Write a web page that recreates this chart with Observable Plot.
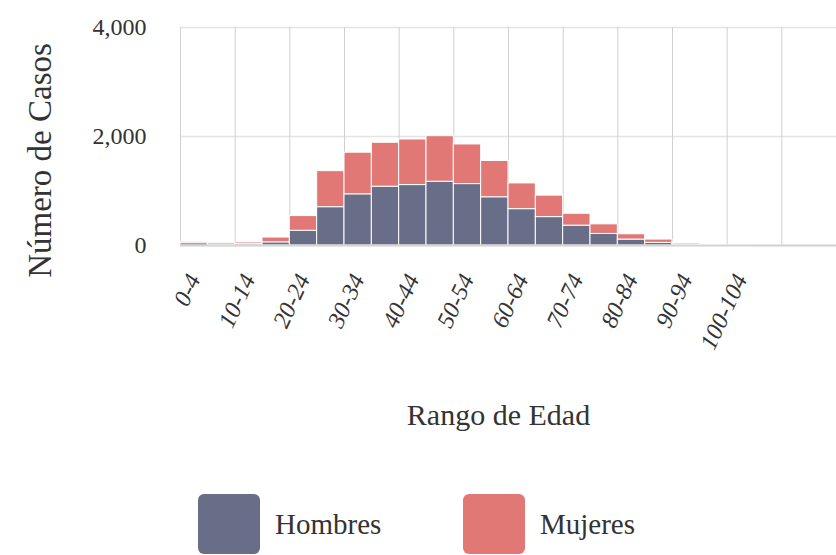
<!DOCTYPE html>
<html>
<head>
<meta charset="utf-8">
<script src="https://cdn.jsdelivr.net/npm/d3@7"></script>
<script src="https://cdn.jsdelivr.net/npm/@observablehq/plot@0.6"></script>
<style>
  html, body { margin: 0; padding: 0; background: white; }
  #chart { width: 836px; }
  .legend { position: relative; width: 836px; height: 75px; font-family: "Liberation Serif", serif; font-size: 29px; color: #333; }
  .sw { position: absolute; top: 14px; width: 62px; height: 60px; border-radius: 6px; }
  .lb { position: absolute; top: 14px; height: 60px; line-height: 60px; }
</style>
</head>
<body>
<div id="chart"></div>
<script>
const ageStarts = [0,5,10,15,20,25,30,35,40,45,50,55,60,65,70,75,80,85,90,95,100,105];
const ageLabels = ["0-4","5-9","10-14","15-19","20-24","25-29","30-34","35-39","40-44","45-49","50-54","55-59","60-64","65-69","70-74","75-79","80-84","85-89","90-94","95-99","100-104","105-109"];
const hombres = [42,15,24,58,270,703,939,1079,1109,1170,1127,885,667,521,364,212,109,48,12,5,1,0];
const mujeres = [25,27,31,88,270,661,764,806,836,836,727,666,472,394,218,176,97,61,24,13,2,0];
const series = ["Hombres","Mujeres"];
const colors = ["#686e87","#e27875"];
const yTicks = [0,2000,4000];
const xGrid = [0,10,20,30,40,50,60,70,80,90,100,110];
const xTickIdx = [0,2,4,6,8,10,12,14,16,18,20];

const rows = [];
ageStarts.forEach((s,i) => {
  rows.push({x1: s, x2: s + 5, sex: series[0], value: hombres[i]});
  rows.push({x1: s, x2: s + 5, sex: series[1], value: mujeres[i]});
});
const xTicks = xTickIdx.map(i => ageStarts[i] + 2.5);
const labelOf = d => ageLabels[ageStarts.indexOf(d - 2.5)];

const chart = Plot.plot({
  width: 836,
  height: 480,
  marginLeft: 180,
  marginRight: 0,
  marginTop: 27,
  marginBottom: 235,
  style: {fontFamily: "Liberation Serif, serif", background: "white", color: "#333", overflow: "visible"},
  x: {domain: [0, 120], axis: null},
  y: {domain: [0, 4000], axis: null},
  color: {domain: series, range: colors},
  marks: [
    Plot.ruleY(yTicks, {stroke: "#e4e4e4", strokeWidth: 1.5}),
    Plot.ruleX(xGrid, {stroke: "#d0d0d0", strokeWidth: 1}),
    Plot.rectY(rows, {x1: "x1", x2: "x2", y: "value", fill: "sex", stroke: "white", strokeWidth: 1, order: series}),
    Plot.ruleY([0], {stroke: "#d4d4d4", strokeWidth: 2}),
    Plot.axisY({ticks: yTicks, tickSize: 0, tickPadding: 34, fontSize: 24, tickFormat: d => d.toLocaleString("en-US"), label: null}),
    Plot.axisX({ticks: xTicks, tickSize: 0, tickPadding: 30, tickRotate: -65, fontSize: 24, fontStyle: "italic", tickFormat: labelOf, label: null}),
    Plot.text(["Número de Casos"], {text: d => d, frameAnchor: "left", textAnchor: "middle", dx: -140, dy: 24, rotate: -90, fontSize: 33, fill: "#333"}),
    Plot.text(["Rango de Edad"], {text: d => d, frameAnchor: "bottom", dx: -10, dy: 179, fontSize: 30, fill: "#333"})
  ]
});
document.getElementById("chart").appendChild(chart);

const legend = document.createElement("div");
legend.className = "legend";
const pos = [[198, 275], [463, 540]];
series.forEach((s, i) => {
  const sw = document.createElement("div");
  sw.className = "sw";
  sw.style.left = pos[i][0] + "px";
  sw.style.background = colors[i];
  const lb = document.createElement("div");
  lb.className = "lb";
  lb.style.left = pos[i][1] + "px";
  lb.textContent = s;
  legend.appendChild(sw);
  legend.appendChild(lb);
});
document.body.appendChild(legend);
</script>
</body>
</html>
